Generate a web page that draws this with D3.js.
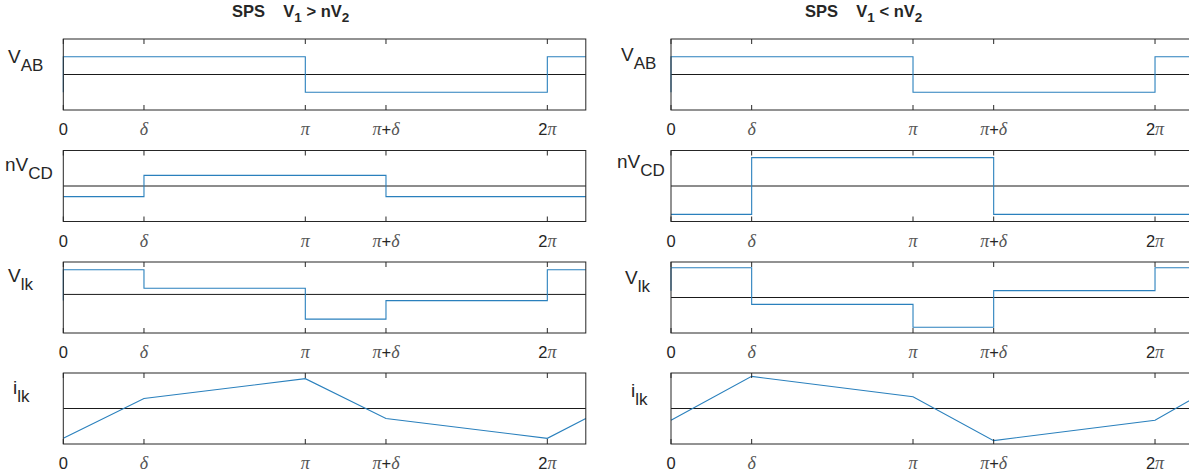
<!doctype html>
<html>
<head>
<meta charset="utf-8">
<script src="https://cdn.jsdelivr.net/npm/d3@7"></script>
<style>
  body { margin: 0; background: #fff; }
  svg { display: block; }
  text { font-family: "Liberation Sans", Arial, sans-serif; fill: #262626; white-space: pre; }
  .greek { font-family: "Liberation Serif", "Times New Roman", serif; font-style: italic; }
</style>
</head>
<body>
<div id="chart"></div>
<script>
// phase positions, in units of pi
const tickPos = [0, 1/3, 1, 4/3, 2];
const tickLabels = ["0", "δ", "π", "π+δ", "2π"];
const xEnd = 2.159;

const rowLabels = [["V", "AB"], ["nV", "CD"], ["V", "lk"], ["i", "lk"]];

// levels per interval starting at each tick (step waveforms)
const leftVab  = [1, 1, -1, -1, 1];
const leftNvcd = [-0.6, 0.6, 0.6, -0.6, -0.6];
const leftVlk  = [1.6, 0.4, -1.6, -0.4, 1.6];
// current at each tick, last one at xEnd
const leftIlk  = [-1.26, 0.42, 1.26, -0.42, -1.26, -0.42];

const rightVab  = [1, 1, -1, -1, 1];
const rightNvcd = [-1.6, 1.6, 1.6, -1.6, -1.6];
const rightVlk  = [2.6, -0.6, -2.6, 0.6, 2.6];
const rightIlk  = [-0.73, 1.99, 0.73, -1.99, -0.73, 0.63];

const leftDomains  = [[-2, 2], [-2, 2], [-2.5, 2.1], [-1.5, 1.5]];
const rightDomains = [[-2, 2], [-2, 2], [-3.1, 3.1], [-2.2, 2.2]];

const width = 1189, height = 472;
const rowTops = [39, 150.5, 262, 373], boxH = 71;
const boxW = 522.5;

const columns = [
  { left: 63.3, title: ["SPS    V", "1", " > nV", "2"], titleX: 232,
    steps: [leftVab, leftNvcd, leftVlk], ilk: leftIlk, domains: leftDomains,
    labelX: [8, 5, 8, 13], labelY: [24, 20, 20, 21] },
  { left: 671, title: ["SPS    V", "1", " < nV", "2"], titleX: 805,
    steps: [rightVab, rightNvcd, rightVlk], ilk: rightIlk, domains: rightDomains,
    labelX: [621, 617, 625, 631], labelY: [22, 17, 22, 24] }
];

const svg = d3.select("#chart").append("svg")
  .attr("width", width)
  .attr("height", height);

svg.append("rect").attr("width", width).attr("height", height).attr("fill", "#fff");

const blue = "#2a80bd";

columns.forEach(col => {
  const x = d3.scaleLinear()
    .domain([0, xEnd])
    .range([col.left, col.left + boxW]);

  // title
  const t = svg.append("text")
    .attr("x", col.titleX)
    .attr("y", 17)
    .attr("font-size", 16.5)
    .attr("font-weight", "bold")
    .attr("fill", "#000");
  col.title.forEach((s, i) => {
    const sub = i % 2 === 1;
    t.append("tspan")
      .attr("dy", sub ? 5 : (i === 0 ? 0 : -5))
      .attr("font-size", sub ? 13.5 : 16.5)
      .text(s);
  });

  rowTops.forEach((top, r) => {
    const y = d3.scaleLinear()
      .domain(col.domains[r])
      .range([top + boxH, top]);

    const g = svg.append("g");

    // zero line
    g.append("line")
      .attr("x1", x(0)).attr("x2", x(xEnd))
      .attr("y1", y(0)).attr("y2", y(0))
      .attr("stroke", "#1a1a1a").attr("stroke-width", 1);

    // waveform
    let pts, curve;
    if (r < 3) {
      const lv = col.steps[r];
      pts = [[0, lv[3]]].concat(tickPos.map((p, i) => [p, lv[i]]), [[xEnd, lv[4]]]);
      curve = d3.curveStepAfter;
    } else {
      pts = tickPos.map((p, i) => [p, col.ilk[i]]).concat([[xEnd, col.ilk[5]]]);
      curve = d3.curveLinear;
    }
    g.append("path")
      .datum(pts)
      .attr("fill", "none")
      .attr("stroke", blue)
      .attr("stroke-width", 1.1)
      .attr("d", d3.line().x(d => x(d[0])).y(d => y(d[1])).curve(curve));

    // box
    g.append("rect")
      .attr("x", x(0)).attr("y", top)
      .attr("width", boxW).attr("height", boxH)
      .attr("fill", "none")
      .attr("stroke", "#262626").attr("stroke-width", 1);

    // inward ticks, bottom and top
    tickPos.forEach(p => {
      g.append("line")
        .attr("x1", x(p)).attr("x2", x(p))
        .attr("y1", top + boxH).attr("y2", top + boxH - 5)
        .attr("stroke", "#262626");
      g.append("line")
        .attr("x1", x(p)).attr("x2", x(p))
        .attr("y1", top).attr("y2", top + 5)
        .attr("stroke", "#262626");
    });

    // tick labels
    tickPos.forEach((p, i) => {
      const lbl = g.append("text")
        .attr("x", x(p))
        .attr("y", top + boxH + 25)
        .attr("text-anchor", "middle")
        .attr("font-size", 16.5);
      Array.from(tickLabels[i]).forEach(ch => {
        const isGreek = "δπ".includes(ch);
        lbl.append("tspan")
          .attr("class", isGreek ? "greek" : null)
          .attr("font-size", isGreek ? 18 : 16.5)
          .attr("fill", isGreek ? "#555" : null)
          .text(ch);
      });
    });

    // row label
    const yl = g.append("text")
      .attr("x", col.labelX[r])
      .attr("y", top + col.labelY[r])
      .attr("font-size", 19);
    yl.append("tspan").text(rowLabels[r][0]);
    yl.append("tspan").attr("dy", 8).attr("font-size", 17).text(rowLabels[r][1]);
  });
});
</script>
</body>
</html>
